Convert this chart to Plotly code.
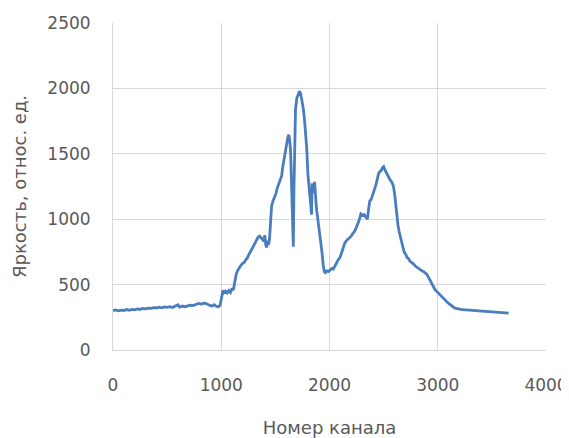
import plotly.graph_objects as go

# (channel, brightness) readings, split by spectral region
baseline = [(0, 300), (25, 306), (50, 299), (75, 305), (100, 302), (125, 309), (150, 304), (175, 311),
            (200, 307), (225, 314), (250, 310), (275, 317), (300, 315), (325, 320), (350, 318),
            (375, 324), (400, 321), (425, 327), (450, 323), (475, 329), (500, 326), (525, 331),
            (550, 325), (575, 333), (600, 346), (615, 329), (640, 336), (665, 331), (690, 338),
            (715, 342), (740, 339), (765, 350), (790, 356), (815, 351), (840, 358), (860, 355),
            (875, 346), (895, 341), (915, 337), (935, 346), (955, 334), (975, 331), (990, 344)]

rise = [(1005, 425), (1015, 455), (1025, 438), (1040, 450), (1055, 436), (1070, 455), (1085, 440),
        (1100, 472), (1112, 458), (1125, 520), (1138, 580), (1150, 605), (1165, 628), (1180, 645),
        (1195, 660), (1210, 668), (1225, 688), (1240, 702), (1255, 730), (1268, 745), (1282, 770),
        (1296, 792), (1310, 815), (1325, 845), (1340, 862), (1355, 870), (1370, 858), (1382, 845),
        (1392, 830), (1402, 878), (1412, 800), (1420, 785), (1428, 835), (1437, 805), (1446, 850)]

main_peaks = [(1455, 1030), (1465, 1100), (1478, 1140), (1492, 1170), (1505, 1195), (1518, 1240),
              (1532, 1270), (1545, 1295), (1558, 1330), (1568, 1400), (1580, 1465), (1592, 1530),
              (1604, 1580), (1615, 1625), (1624, 1645), (1633, 1600), (1641, 1510), (1648, 1250),
              (1655, 1020), (1662, 820), (1666, 790), (1671, 1200), (1677, 1620), (1686, 1840),
              (1698, 1925), (1710, 1955), (1722, 1978), (1733, 1962), (1745, 1915), (1757, 1850),
              (1768, 1770), (1779, 1680), (1790, 1540), (1800, 1350), (1810, 1265), (1820, 1215),
              (1828, 1100), (1834, 1035), (1840, 1275), (1847, 1230), (1855, 1200), (1862, 1285),
              (1870, 1170), (1880, 1080), (1892, 1000), (1905, 920), (1918, 840), (1930, 750),
              (1942, 650), (1952, 600), (1962, 592)]

second_peak = [(1975, 605), (1990, 600), (2005, 612), (2020, 622), (2035, 618), (2050, 648),
               (2065, 665), (2080, 690), (2095, 705), (2110, 738), (2125, 780), (2140, 815),
               (2155, 835), (2170, 845), (2185, 860), (2200, 870), (2215, 890), (2230, 905),
               (2245, 930), (2260, 960), (2275, 995), (2290, 1040), (2305, 1028), (2320, 1035),
               (2335, 1015), (2350, 1000), (2360, 1070), (2372, 1140), (2385, 1150), (2400, 1185),
               (2415, 1215), (2428, 1260), (2440, 1300), (2452, 1345), (2465, 1365), (2478, 1372),
               (2490, 1395), (2500, 1402), (2510, 1380), (2522, 1360), (2535, 1330), (2548, 1310),
               (2560, 1300), (2575, 1285), (2590, 1255), (2602, 1190), (2612, 1100), (2622, 1040),
               (2632, 960), (2642, 910)]

tail = [(2655, 860), (2668, 815), (2680, 780), (2692, 745), (2705, 730), (2718, 705), (2730, 700),
        (2742, 680), (2755, 672), (2768, 660), (2780, 655), (2795, 640), (2810, 630), (2825, 622),
        (2840, 610), (2855, 605), (2870, 598), (2885, 590), (2900, 578), (2915, 555), (2930, 530),
        (2945, 505), (2960, 485), (2975, 462), (2990, 448), (3005, 435), (3020, 420), (3035, 410),
        (3050, 392), (3065, 385), (3080, 372), (3095, 360), (3110, 350), (3125, 340), (3140, 330),
        (3155, 322), (3170, 318), (3185, 314), (3200, 312), (3230, 309), (3260, 306), (3290, 305),
        (3320, 302), (3350, 300), (3380, 299), (3410, 297), (3440, 295), (3470, 294), (3500, 291),
        (3530, 290), (3560, 288), (3590, 286), (3620, 284), (3655, 282)]

x_ticks = [0, 1000, 2000, 3000, 4000]
y_ticks = [0, 500, 1000, 1500, 2000, 2500]

x_title = "Номер канала"
y_title = "Яркость, относ. ед."

readings = baseline + rise + main_peaks + second_peak + tail
channel = [c for c, _ in readings]
brightness = [b for _, b in readings]

FONT = "DejaVu Sans"
GREY = "#595959"
GRID = "#d9d9d9"

fig = go.Figure(go.Scatter(
    x=channel, y=brightness, mode="lines",
    line=dict(color="#4a7dbe", width=2.8),
    hoverinfo="x+y",
))

# the page body adds an 8px offset; compensate so the plot area lands where the reference has it
fig.update_layout(
    width=561, height=430,
    margin=dict(l=105, r=23, t=15, b=88),
    paper_bgcolor="white", plot_bgcolor="white",
    showlegend=False,
    font=dict(family=FONT, size=17, color=GREY),
)

fig.update_xaxes(
    range=[0, 4000], tickvals=x_ticks, ticktext=[str(v) for v in x_ticks],
    showgrid=True, gridcolor=GRID, gridwidth=1,
    showline=True, linecolor=GRID, linewidth=1,
    zeroline=False, ticks="", ticklabelstandoff=20,
    tickfont=dict(family=FONT, size=17, color=GREY),
    title=dict(text=x_title, font=dict(family=FONT, size=18, color=GREY), standoff=27),
    automargin=False,
)
fig.update_yaxes(
    range=[0, 2500], tickvals=y_ticks, ticktext=[str(v) for v in y_ticks],
    showgrid=True, gridcolor=GRID, gridwidth=1,
    showline=True, linecolor=GRID, linewidth=1,
    zeroline=False, ticks="", ticklabelstandoff=18,
    tickfont=dict(family=FONT, size=17, color=GREY),
    title=dict(text=y_title, font=dict(family=FONT, size=18, color=GREY), standoff=16),
    automargin=False,
)

fig.write_html("out.html")
